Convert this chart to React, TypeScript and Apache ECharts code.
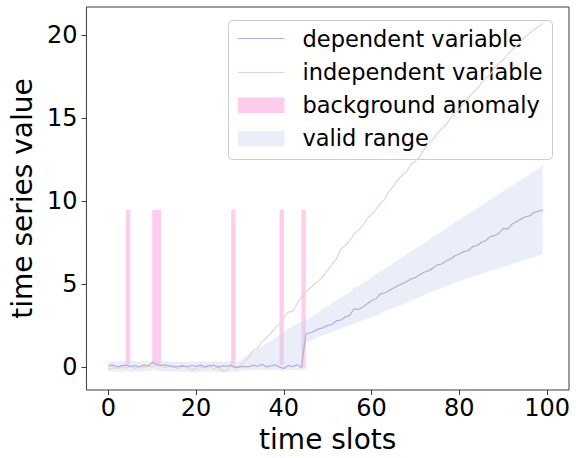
import React, { useEffect, useRef } from "react";
import * as echarts from "echarts";

const FONT = "DejaVu Sans";

const xTicks = [0, 20, 40, 60, 80, 100];
const yTicks = [0, 5, 10, 15, 20];

const dependent = [
  0.05, 0.1, 0.0, 0.05, 0.1, 0.02, 0.08, 0.0, 0.1, 0.05,
  0.25, 0.15, 0.08, 0.12, 0.05, 0.0, 0.02, 0.05, 0.0, 0.08,
  0.02, 0.1, 0.0, 0.05, 0.1, -0.02, 0.05, 0.02, 0.1, -0.05,
  0.0, 0.02, 0.0, 0.1, 0.02, 0.15, 0.0, 0.05, 0.12, -0.02,
  -0.1, 0.08, 0.0, 0.12, -0.05, 1.96, 2.05, 2.15, 2.3, 2.35,
  2.5, 2.55, 2.78, 2.82, 3.0, 3.1, 3.5, 3.45, 3.6, 3.8,
  4.0, 4.1, 4.4, 4.45, 4.6, 4.75, 4.9, 5.0, 5.15, 5.3,
  5.38, 5.55, 5.7, 5.8, 5.95, 6.15, 6.2, 6.38, 6.5, 6.7,
  6.8, 6.95, 7.0, 7.25, 7.3, 7.5, 7.6, 7.85, 7.9, 8.05,
  8.35, 8.3, 8.6, 8.75, 8.9, 9.05, 9.1, 9.3, 9.38, 9.45,
];

const independent = [
  -0.15, -0.05, -0.1, 0.0, -0.08, 0.05, -0.1, 0.02, -0.05, 0.05,
  0.0, 0.1, 0.02, -0.05, 0.05, 0.0, -0.12, 0.05, 0.0, -0.2,
  -0.1, -0.05, 0.0, 0.1, -0.15, 0.05, -0.25, -0.2, 0.0, 0.0,
  0.05, 0.3, 0.6, 1.0, 1.1, 1.5, 1.75, 2.0, 2.35, 2.6,
  2.95, 3.3, 3.35, 3.8, 4.2, 4.5, 4.75, 5.0, 5.2, 5.5,
  5.85, 6.2, 6.5, 7.1, 7.3, 7.6, 8.0, 8.25, 8.5, 8.95,
  9.2, 9.5, 9.85, 10.1, 10.6, 10.9, 11.3, 11.55, 11.8, 12.2,
  12.4, 12.7, 13.1, 13.5, 13.7, 14.1, 14.35, 14.6, 15.0, 15.3,
  15.5, 15.9, 16.2, 16.5, 16.75, 17.1, 17.4, 17.6, 18.0, 18.3,
  18.5, 18.85, 19.1, 19.35, 19.6, 19.9, 20.1, 20.35, 20.5, 20.7,
];

const validUpper = [
  0.3, 0.35, 0.3, 0.32, 0.35, 0.3, 0.33, 0.3, 0.35, 0.32,
  0.4, 0.38, 0.33, 0.35, 0.3, 0.3, 0.32, 0.3, 0.3, 0.33,
  0.3, 0.35, 0.3, 0.32, 0.35, 0.3, 0.3, 0.3, 0.33, 0.3,
  0.35, 0.55, 0.75, 0.9, 1.05, 1.2, 1.4, 1.55, 1.75, 1.9,
  2.1, 2.3, 2.45, 2.6, 2.75, 2.8, 2.95, 3.15, 3.3, 3.5,
  3.65, 3.85, 4.0, 4.2, 4.35, 4.5, 4.75, 4.85, 5.05, 5.2,
  5.4, 5.6, 5.75, 5.9, 6.1, 6.25, 6.45, 6.6, 6.8, 6.95,
  7.15, 7.3, 7.45, 7.65, 7.85, 8.0, 8.15, 8.35, 8.5, 8.7,
  8.85, 9.05, 9.2, 9.35, 9.55, 9.75, 9.9, 10.05, 10.25, 10.4,
  10.6, 10.75, 10.9, 11.1, 11.3, 11.45, 11.6, 11.8, 11.95, 12.15,
];

const validLower = [
  -0.3, -0.25, -0.3, -0.28, -0.25, -0.3, -0.28, -0.3, -0.25, -0.28,
  -0.2, -0.22, -0.28, -0.25, -0.3, -0.3, -0.32, -0.3, -0.3, -0.35,
  -0.32, -0.3, -0.3, -0.28, -0.3, -0.32, -0.35, -0.35, -0.3, -0.32,
  -0.25, -0.22, -0.2, -0.2, -0.2, -0.2, -0.22, -0.2, -0.2, -0.22,
  -0.25, -0.2, -0.2, -0.2, -0.22, 1.45, 1.55, 1.7, 1.8, 1.9,
  2.0, 2.1, 2.2, 2.3, 2.4, 2.5, 2.6, 2.7, 2.8, 2.9,
  3.0, 3.1, 3.2, 3.35, 3.45, 3.55, 3.65, 3.75, 3.85, 4.0,
  4.1, 4.2, 4.35, 4.45, 4.55, 4.65, 4.75, 4.85, 4.95, 5.05,
  5.15, 5.25, 5.35, 5.45, 5.5, 5.6, 5.7, 5.8, 5.85, 5.95,
  6.05, 6.1, 6.2, 6.3, 6.35, 6.45, 6.55, 6.6, 6.7, 6.75,
];

const anomalyStart = [4, 10, 28, 39, 44];
const anomalyEnd = [5, 12, 29, 40, 45];
const anomalyBottom = [0.15, 0.15, 0.15, 0.12, -0.12];
const anomalyTop = [9.45, 9.45, 9.45, 9.45, 9.45];

const legendLabels = [
  "dependent variable",
  "independent variable",
  "background anomaly",
  "valid range",
];

const COLOR_DEP = "#b4acdb";
const COLOR_IND = "#e6d4cb";
const COLOR_ANOM = "#ffccee";
const COLOR_BAND = "rgba(196,210,240,0.38)";

export default function App() {
  const ref = useRef<HTMLDivElement>(null);

  useEffect(() => {
    if (!ref.current) return;
    const chart = echarts.init(ref.current, null, { renderer: "svg" });

    const xs = dependent.map((_, i) => i);
    const depData = xs.map((x) => [x, dependent[x]]);
    const indData = xs.map((x) => [x, independent[x]]);
    const bandData = xs.map((x) => [x, validLower[x], validUpper[x]]);
    const anomData = anomalyStart.map((s, i) => [s, anomalyEnd[i], anomalyBottom[i], anomalyTop[i]]);

    const legendX = 228.5;
    const legendY = 20.5;
    const rowY = [39, 72, 105, 138];

    const option: any = {
      animation: false,
      grid: {
        left: 83,
        right: 7,
        top: 7,
        bottom: 67,
        show: true,
        borderColor: "#3a3a3a",
        borderWidth: 1,
        backgroundColor: "transparent",
      },
      xAxis: {
        type: "value",
        min: -5,
        max: 105,
        name: "time slots",
        nameLocation: "middle",
        nameGap: 35,
        nameTextStyle: { fontFamily: FONT, fontSize: 28, color: "#000" },
        axisLine: { show: false, onZero: false },
        splitLine: { show: false },
        axisTick: {
          show: true,
          length: 5,
          inside: false,
          customValues: xTicks,
          lineStyle: { color: "#3a3a3a", width: 1 },
        },
        axisLabel: {
          customValues: xTicks,
          fontFamily: FONT,
          fontSize: 24,
          color: "#000",
          margin: 6,
        },
      },
      yAxis: {
        type: "value",
        min: -1.4,
        max: 21.7,
        name: "time series value",
        nameLocation: "middle",
        nameGap: 42,
        nameRotate: 90,
        nameTextStyle: { fontFamily: FONT, fontSize: 28, color: "#000" },
        axisLine: { show: false, onZero: false },
        splitLine: { show: false },
        axisTick: {
          show: true,
          length: 5,
          inside: false,
          customValues: yTicks,
          lineStyle: { color: "#3a3a3a", width: 1 },
        },
        axisLabel: {
          customValues: yTicks,
          fontFamily: FONT,
          fontSize: 24,
          color: "#000",
          margin: 9,
        },
      },
      series: [
        {
          name: "background anomaly",
          type: "custom",
          data: anomData,
          encode: { x: [0, 1], y: [2, 3] },
          clip: true,
          renderItem: (params: any, api: any) => {
            const p0 = api.coord([api.value(0), api.value(3)]);
            const p1 = api.coord([api.value(1), api.value(2)]);
            return {
              type: "rect",
              shape: { x: p0[0], y: p0[1], width: p1[0] - p0[0], height: p1[1] - p0[1] },
              style: { fill: COLOR_ANOM },
            };
          },
          z: 1,
        },
        {
          name: "valid range",
          type: "custom",
          data: bandData,
          encode: { x: 0, y: [1, 2] },
          clip: true,
          renderItem: (params: any, api: any) => {
            if (params.dataIndex !== 0) return null;
            const pts: number[][] = [];
            for (let i = 0; i < bandData.length; i++) {
              pts.push(api.coord([bandData[i][0], bandData[i][2]]));
            }
            for (let i = bandData.length - 1; i >= 0; i--) {
              pts.push(api.coord([bandData[i][0], bandData[i][1]]));
            }
            return {
              type: "polygon",
              shape: { points: pts },
              style: { fill: COLOR_BAND, stroke: "none" },
            };
          },
          z: 2,
        },
        {
          name: "independent variable",
          type: "line",
          data: indData,
          showSymbol: false,
          symbol: "none",
          lineStyle: { color: COLOR_IND, width: 1.2 },
          itemStyle: { color: COLOR_IND },
          z: 3,
        },
        {
          name: "dependent variable",
          type: "line",
          data: depData,
          showSymbol: false,
          symbol: "none",
          lineStyle: { color: COLOR_DEP, width: 1.2 },
          itemStyle: { color: COLOR_DEP },
          z: 4,
        },
      ],
      graphic: [
        {
          type: "group",
          z: 100,
          children: [
            {
              type: "rect",
              shape: { x: legendX, y: legendY, width: 324, height: 139, r: 4 },
              style: { fill: "rgba(255,255,255,0.8)", stroke: "#cccccc", lineWidth: 1 },
            },
            {
              type: "line",
              shape: { x1: 238, y1: 38.5, x2: 284.5, y2: 38.5 },
              style: { stroke: COLOR_DEP, lineWidth: 1.2 },
            },
            {
              type: "line",
              shape: { x1: 238, y1: 72.5, x2: 284.5, y2: 72.5 },
              style: { stroke: COLOR_IND, lineWidth: 1.2 },
            },
            {
              type: "rect",
              shape: { x: 238, y: 97.5, width: 46.5, height: 15.5 },
              style: { fill: COLOR_ANOM },
            },
            {
              type: "rect",
              shape: { x: 238, y: 131, width: 46.5, height: 15.5 },
              style: { fill: "#e9eef9" },
            },
            ...legendLabels.map((t, i) => ({
              type: "text",
              x: 302.5,
              y: rowY[i],
              style: {
                text: t,
                fontFamily: FONT,
                fontSize: 22.5,
                fill: "#000",
                textVerticalAlign: "middle",
                verticalAlign: "middle",
              },
            })),
          ],
        },
      ],
    };

    chart.setOption(option);
    return () => chart.dispose();
  }, []);

  return (
    <div
      ref={ref}
      style={{ position: "absolute", left: 0, top: 0, width: 576, height: 458 }}
    />
  );
}
